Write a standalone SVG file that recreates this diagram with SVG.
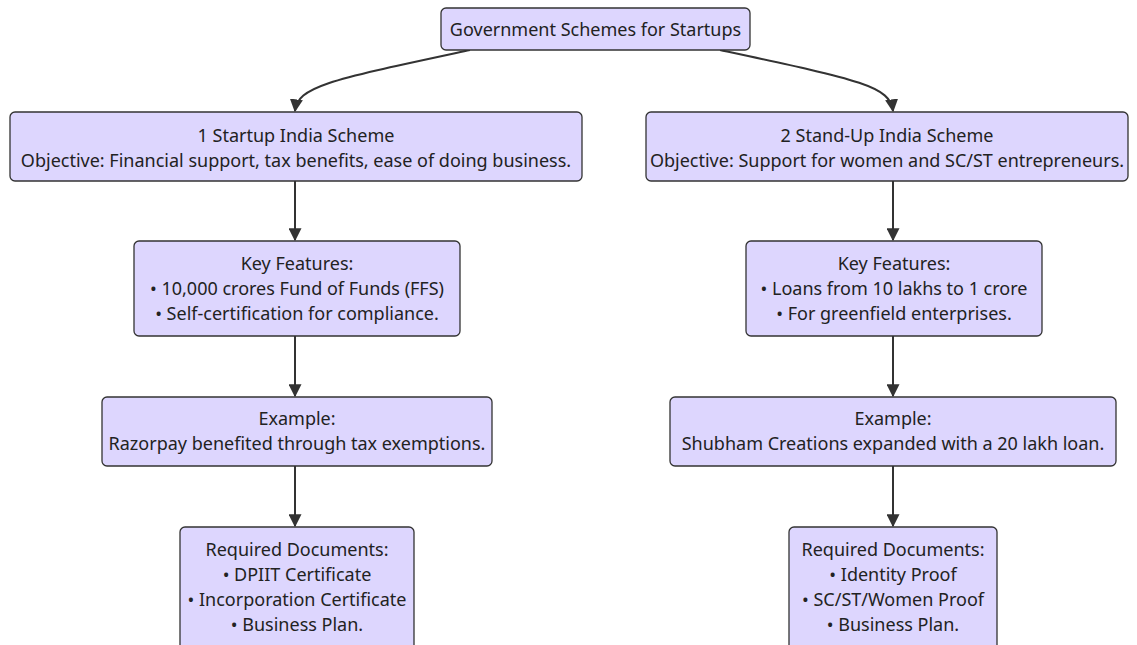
<svg xmlns="http://www.w3.org/2000/svg" width="1137" height="645" viewBox="0 0 1137 645">
  <defs>
    <marker id="arrow" viewBox="0 0 10 10" refX="9" refY="5" markerWidth="13" markerHeight="13" markerUnits="userSpaceOnUse" orient="auto">
      <path d="M0,0 L10,5 L0,10 z" fill="#333333"/>
    </marker>
    <style>
      .node rect { fill: #ddd6fe; stroke: #333333; stroke-width: 1.3; }
      .node text { font-family: "Noto Sans", "Liberation Sans", sans-serif; font-size: 18px; fill: #222222; text-anchor: middle; }
      .edge { fill: none; stroke: #333333; stroke-width: 2; }
    </style>
  </defs>
  <rect width="1137" height="645" fill="#ffffff"/>

  <g id="connectors">
    <path class="edge" d="M470,50 C330,80 298,86 295,111" marker-end="url(#arrow)"/>
    <path class="edge" d="M720,50 C860,80 890,86 893,111" marker-end="url(#arrow)"/>
    <path class="edge" d="M295,181 L295,240" marker-end="url(#arrow)"/>
    <path class="edge" d="M295,336 L295,396" marker-end="url(#arrow)"/>
    <path class="edge" d="M295,466 L295,526" marker-end="url(#arrow)"/>
    <path class="edge" d="M893,181 L893,240" marker-end="url(#arrow)"/>
    <path class="edge" d="M893,336 L893,396" marker-end="url(#arrow)"/>
    <path class="edge" d="M893,466 L893,526" marker-end="url(#arrow)"/>
  </g>

  <g id="root" class="node">
    <rect x="441" y="8" width="309" height="42" rx="5"/>
    <text x="595.5" y="36">Government Schemes for Startups</text>
  </g>

  <g id="startup-india" class="node">
    <rect x="10" y="112" width="572" height="69" rx="5"/>
    <text x="296" y="142">1 Startup India Scheme</text>
    <text x="296" y="167">Objective: Financial support, tax benefits, ease of doing business.</text>
  </g>

  <g id="standup-india" class="node">
    <rect x="646" y="112" width="482" height="69" rx="5"/>
    <text x="887" y="142">2 Stand-Up India Scheme</text>
    <text x="887" y="167">Objective: Support for women and SC/ST entrepreneurs.</text>
  </g>

  <g id="startup-features" class="node">
    <rect x="134" y="241" width="326" height="95" rx="5"/>
    <text x="297" y="270">Key Features:</text>
    <text x="297" y="295">• 10,000 crores Fund of Funds (FFS)</text>
    <text x="297" y="320">• Self-certification for compliance.</text>
  </g>

  <g id="standup-features" class="node">
    <rect x="746" y="241" width="296" height="95" rx="5"/>
    <text x="894" y="270">Key Features:</text>
    <text x="894" y="295">• Loans from 10 lakhs to 1 crore</text>
    <text x="894" y="320">• For greenfield enterprises.</text>
  </g>

  <g id="startup-example" class="node">
    <rect x="102" y="397" width="390" height="69" rx="5"/>
    <text x="297" y="425">Example:</text>
    <text x="297" y="450">Razorpay benefited through tax exemptions.</text>
  </g>

  <g id="standup-example" class="node">
    <rect x="670" y="397" width="446" height="69" rx="5"/>
    <text x="893" y="425">Example:</text>
    <text x="893" y="450">Shubham Creations expanded with a 20 lakh loan.</text>
  </g>

  <g id="startup-documents" class="node">
    <rect x="180" y="527" width="234" height="125" rx="5"/>
    <text x="297" y="556">Required Documents:</text>
    <text x="297" y="581">• DPIIT Certificate</text>
    <text x="297" y="606">• Incorporation Certificate</text>
    <text x="297" y="631">• Business Plan.</text>
  </g>

  <g id="standup-documents" class="node">
    <rect x="789" y="527" width="208" height="125" rx="5"/>
    <text x="893" y="556">Required Documents:</text>
    <text x="893" y="581">• Identity Proof</text>
    <text x="893" y="606">• SC/ST/Women Proof</text>
    <text x="893" y="631">• Business Plan.</text>
  </g>
</svg>
